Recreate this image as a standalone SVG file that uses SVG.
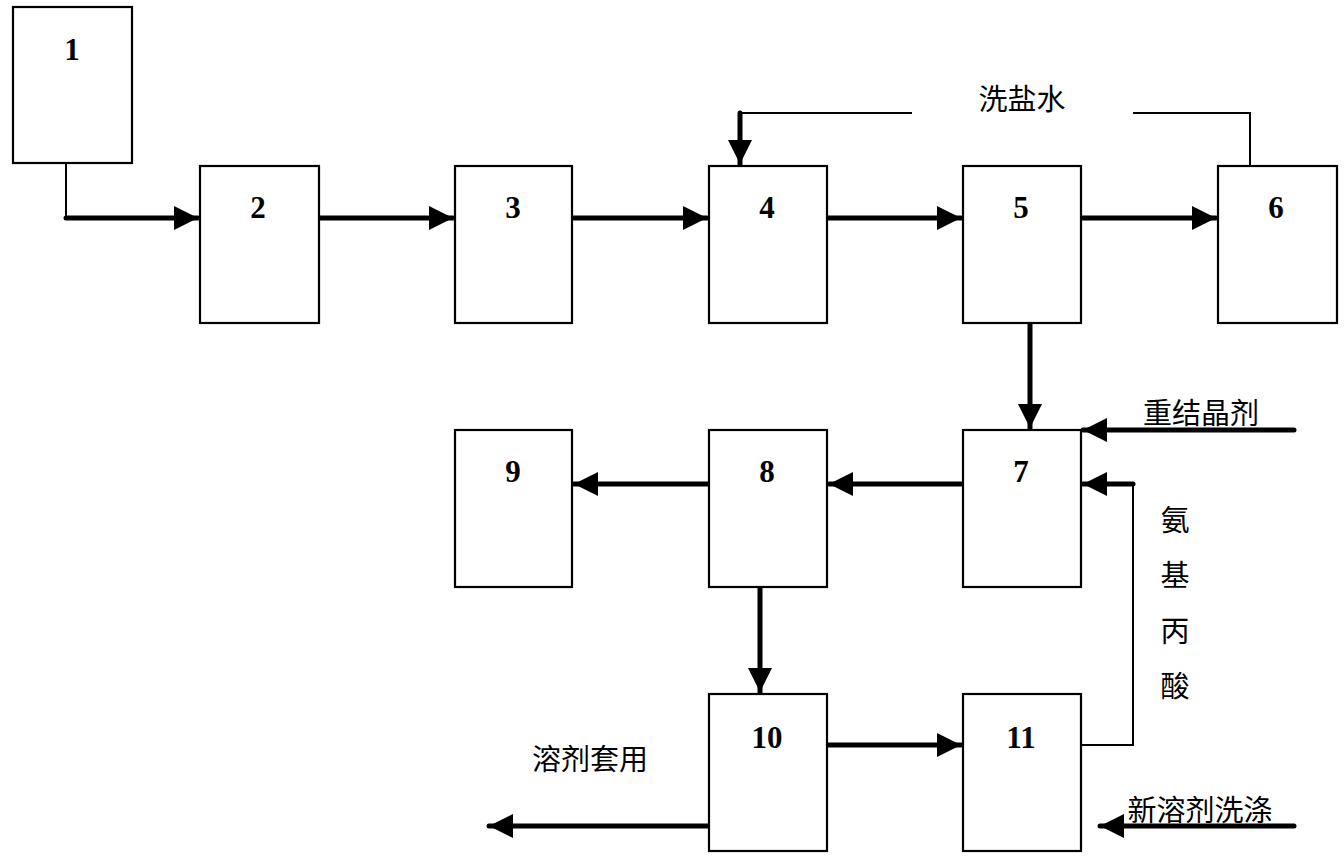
<svg xmlns="http://www.w3.org/2000/svg" width="1344" height="858" viewBox="0 0 1344 858">
<style>
.box{fill:#fff;stroke:#000;stroke-width:2.2}
.num{font-family:"Liberation Serif",serif;font-weight:bold;font-size:31px;text-anchor:middle;fill:#000}
.cn{font-family:"Noto Sans CJK SC",sans-serif;font-size:29px;fill:#000}
.thick{fill:none;stroke:#000;stroke-width:5;stroke-linecap:round}
.thin{fill:none;stroke:#000;stroke-width:2}
</style>
<defs>
<marker id="ah" markerUnits="userSpaceOnUse" markerWidth="26" markerHeight="26" viewBox="0 0 26 26" refX="24" refY="13" orient="auto">
<path d="M0,1 L24,13 L0,25 Z" fill="#000"/>
</marker>
</defs>
<rect width="1344" height="858" fill="#fff"/>
<g id="connectors">
<path class="thin" d="M66,163 V218"/>
<path class="thick" d="M66,218 H198" marker-end="url(#ah)"/>
<path class="thick" d="M320,218 H453" marker-end="url(#ah)"/>
<path class="thick" d="M573,218 H707" marker-end="url(#ah)"/>
<path class="thick" d="M828,218 H961" marker-end="url(#ah)"/>
<path class="thick" d="M1082,218 H1216" marker-end="url(#ah)"/>
<path class="thin" d="M1250,166 V113 H1133"/>
<path class="thin" d="M912,113 H740"/>
<path class="thick" d="M740,113 V164" marker-end="url(#ah)"/>
<path class="thick" d="M1030,323 V428" marker-end="url(#ah)"/>
<path class="thick" d="M1294,430 H1083" marker-end="url(#ah)"/>
<path class="thin" d="M1081,745 H1133 V484"/>
<path class="thick" d="M1133,484 H1083" marker-end="url(#ah)"/>
<path class="thick" d="M963,484 H829" marker-end="url(#ah)"/>
<path class="thick" d="M709,484 H574" marker-end="url(#ah)"/>
<path class="thick" d="M760,587 V692" marker-end="url(#ah)"/>
<path class="thick" d="M828,745 H961" marker-end="url(#ah)"/>
<path class="thick" d="M709,826 H489" marker-end="url(#ah)"/>
<path class="thick" d="M1294,826 H1100" marker-end="url(#ah)"/>
</g>
<g id="n1"><rect class="box" x="13" y="7" width="119" height="156"/><text class="num" x="72" y="60">1</text></g>
<g id="n2"><rect class="box" x="200" y="166" width="119" height="157"/><text class="num" x="258" y="218">2</text></g>
<g id="n3"><rect class="box" x="455" y="166" width="117" height="157"/><text class="num" x="513" y="218">3</text></g>
<g id="n4"><rect class="box" x="709" y="166" width="118" height="157"/><text class="num" x="767" y="218">4</text></g>
<g id="n5"><rect class="box" x="963" y="166" width="118" height="157"/><text class="num" x="1021" y="218">5</text></g>
<g id="n6"><rect class="box" x="1218" y="166" width="119" height="157"/><text class="num" x="1276" y="218">6</text></g>
<g id="n7"><rect class="box" x="963" y="430" width="118" height="157"/><text class="num" x="1021" y="482">7</text></g>
<g id="n8"><rect class="box" x="709" y="430" width="118" height="157"/><text class="num" x="767" y="482">8</text></g>
<g id="n9"><rect class="box" x="455" y="430" width="117" height="157"/><text class="num" x="513" y="482">9</text></g>
<g id="n10"><rect class="box" x="709" y="694" width="118" height="157"/><text class="num" x="767" y="748">10</text></g>
<g id="n11"><rect class="box" x="963" y="694" width="118" height="157"/><text class="num" x="1021" y="748">11</text></g>
<g id="labels">
<text class="cn" x="1022" y="110" text-anchor="middle">洗盐水</text>
<text class="cn" x="1201" y="424" text-anchor="middle">重结晶剂</text>
<text class="cn" x="1175" y="531" text-anchor="middle">氨</text>
<text class="cn" x="1175" y="586" text-anchor="middle">基</text>
<text class="cn" x="1175" y="642" text-anchor="middle">丙</text>
<text class="cn" x="1175" y="697" text-anchor="middle">酸</text>
<text class="cn" x="590" y="770" text-anchor="middle">溶剂套用</text>
<text class="cn" x="1200" y="821" text-anchor="middle">新溶剂洗涤</text>
</g>
</svg>
